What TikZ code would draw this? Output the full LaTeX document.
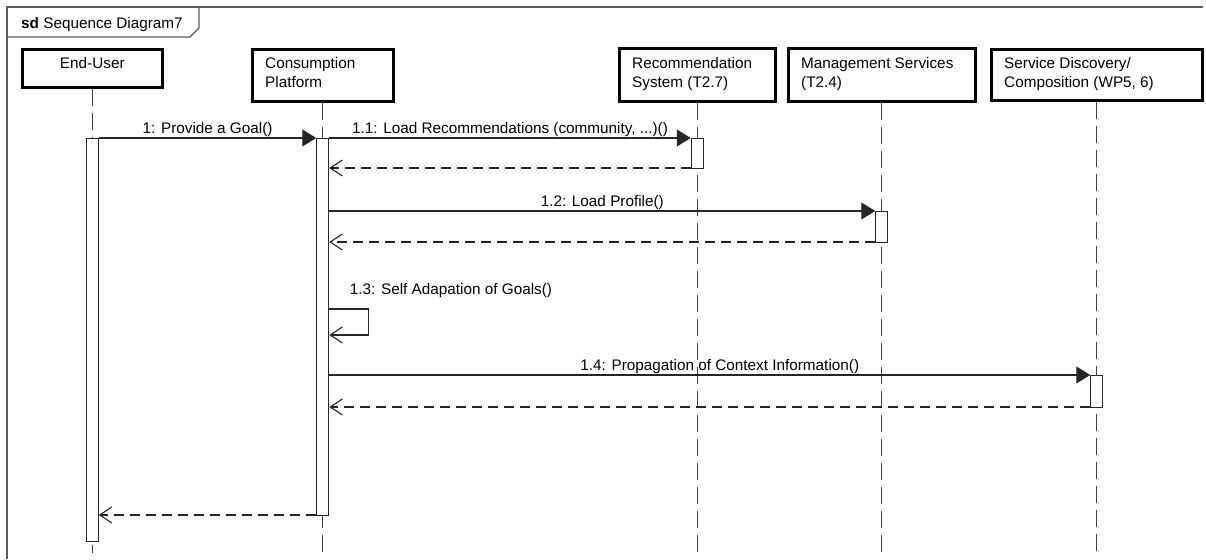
\documentclass[tikz,border=0pt]{standalone}
\usepackage{fontspec}
\setmainfont{Liberation Sans}
\usetikzlibrary{arrows.meta}
\begin{document}
\begin{tikzpicture}[x=1pt,y=-1pt,
  every node/.style={font=\fontsize{15.3}{19}\selectfont},
  lifebox/.style={draw=black, line width=2.6pt, fill=white, anchor=north west,
    inner sep=0pt},
  boxtext/.style={anchor=north west, inner sep=0pt, align=left},
  lifeline/.style={draw=black!75, line width=1.2pt, dash pattern=on 17pt off 7pt},
  actbox/.style={draw=black!85, line width=1.1pt, fill=white, anchor=north,
    minimum width=12pt, inner sep=0pt},
  call/.style={draw=black!85, line width=1.1pt, -{Triangle[length=14pt,width=17pt]}},
  reply/.style={draw=black!85, line width=1.1pt, dash pattern=on 10pt off 6pt,
    -{Straight Barb[length=12pt,width=16pt]}},
  selfcall/.style={draw=black!85, line width=1.1pt, -{Straight Barb[length=12pt,width=16pt]}},
  msglabel/.style={anchor=base, inner sep=0pt, yshift=5pt},
  frameline/.style={draw=black!65, line width=1.1pt}
]
\useasboundingbox (0,0) rectangle (1206,559);

% interaction frame and its tab
\draw[frameline] (7,559) -- (7,7) -- (1203,7);
\draw[frameline] (7,37) -- (190,37) -- (199,28) -- (199,7);
\node[anchor=base west, inner sep=0pt] (title) at (21,29) {\textbf{sd} Sequence Diagram7};

% participants
\node[lifebox, minimum width=140pt, minimum height=38pt] (eu) at (21,48) {};
\node[lifebox, minimum width=141pt, minimum height=52pt] (cp) at (251,48) {};
\node[lifebox, minimum width=156pt, minimum height=53pt] (rs) at (618,47) {};
\node[lifebox, minimum width=187pt, minimum height=53pt] (ms) at (787,47) {};
\node[lifebox, minimum width=211pt, minimum height=51pt] (sd) at (990,48) {};

% participant names
\node[anchor=north, inner sep=0pt] (eut) at ([yshift=-9pt]eu.north) {End-User};
\node[boxtext] (cpt) at ([xshift=14pt,yshift=-9pt]cp.north west) {Consumption\\Platform};
\node[boxtext] (rst) at ([xshift=14pt,yshift=-10pt]rs.north west) {Recommendation\\System (T2.7)};
\node[boxtext] (mst) at ([xshift=14pt,yshift=-10pt]ms.north west) {Management Services\\(T2.4)};
\node[boxtext] (sdt) at ([xshift=14pt,yshift=-9pt]sd.north west) {Service Discovery/\\Composition (WP5, 6)};

% message levels
\coordinate (bottom) at (0,553);
\coordinate (t1) at (0,138);
\coordinate (r11) at (0,168);
\coordinate (t12) at (0,211);
\coordinate (r12) at (0,242);
\coordinate (s13a) at (0,309);
\coordinate (s13b) at (0,335);
\coordinate (t14) at (0,375);
\coordinate (r14) at (0,407);
\coordinate (r1) at (0,515);

% lifelines
\foreach \p in {eu,cp,rs,ms,sd}
  \draw[lifeline] (\p.south) -- (\p.south |- bottom);

% activations
\node[actbox, minimum height=403pt] (eua) at (eu.south |- t1) {};
\node[actbox, minimum height=377pt] (cpa) at (cp.south |- t1) {};
\node[actbox, minimum height=30pt] (rsa) at (rs.south |- t1) {};
\node[actbox, minimum height=31pt] (msa) at (ms.south |- t12) {};
\node[actbox, minimum height=32pt] (sda) at (sd.south |- t14) {};

% messages
\draw[call] (eua.east |- t1) -- node[msglabel]{1: Provide a Goal()} (cpa.west |- t1);
\draw[call] (cpa.east |- t1) -- node[msglabel]{1.1: Load Recommendations (community, ...)()} (rsa.west |- t1);
\draw[reply] (rsa.west |- r11) -- (cpa.east |- r11);
\draw[call] (cpa.east |- t12) -- node[msglabel]{1.2: Load Profile()} (msa.west |- t12);
\draw[reply] (msa.west |- r12) -- (cpa.east |- r12);
\draw[selfcall] (cpa.east |- s13a)
  node[anchor=base west, inner sep=0pt, xshift=20pt, yshift=15pt] (l13) {1.3: Self Adapation of Goals()}
  -- ++(39,0) |- (cpa.east |- s13b);
\draw[call] (cpa.east |- t14) -- node[msglabel, xshift=10pt]{1.4: Propagation of Context Information()} (sda.west |- t14);
\draw[reply] (sda.west |- r14) -- (cpa.east |- r14);
\draw[reply] (cpa.west |- r1) -- (eua.east |- r1);
\end{tikzpicture}
\end{document}
